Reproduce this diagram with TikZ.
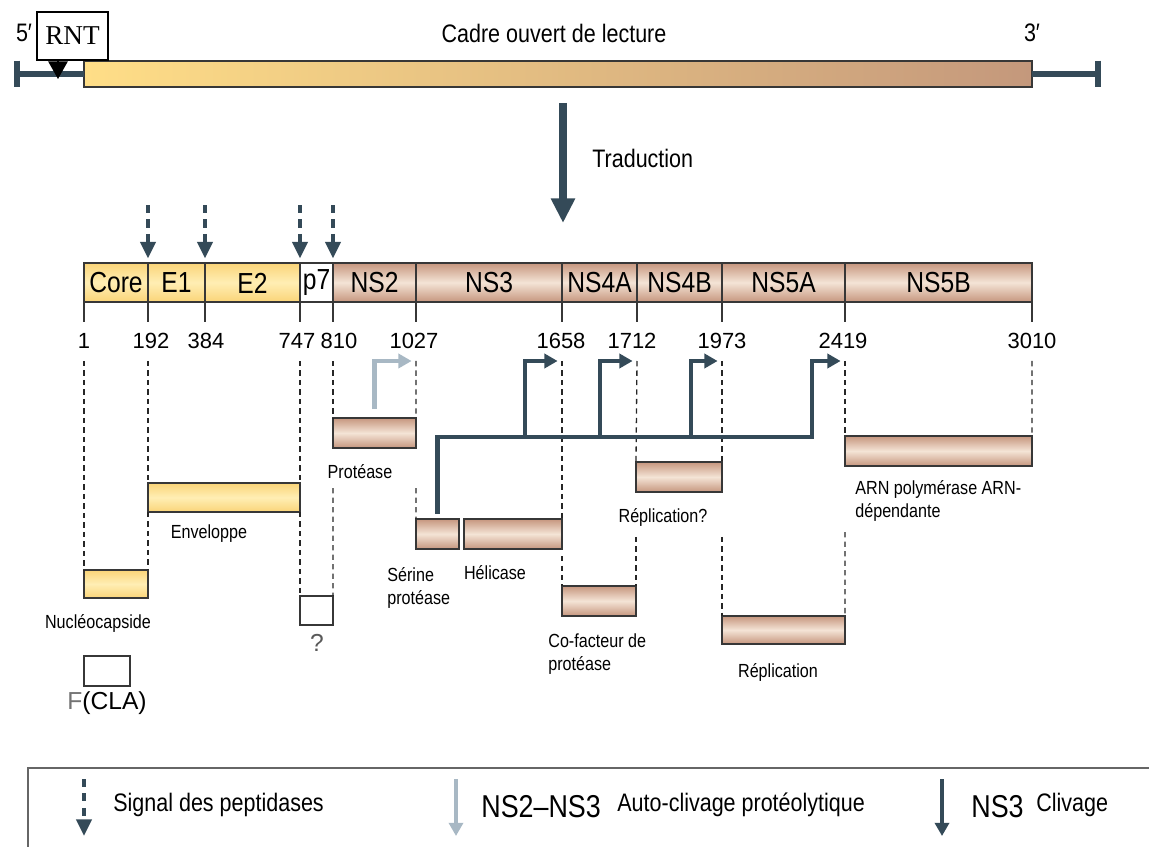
\documentclass[tikz,border=0pt]{standalone}
\usepackage{fontspec}
\setmainfont{Liberation Sans}
\newfontfamily\condfont[FakeStretch=0.85]{Liberation Sans}
\newfontfamily\rntfont{Liberation Serif}
\usetikzlibrary{arrows.meta}
\usetikzlibrary{calc}

\definecolor{slate}{RGB}{52,74,88}
\definecolor{paleslate}{RGB}{168,184,196}
\definecolor{yelA}{RGB}{250,212,120}
\definecolor{yelB}{RGB}{255,238,180}
\definecolor{brnA}{RGB}{198,150,126}
\definecolor{brnB}{RGB}{244,228,214}
\definecolor{orfL}{RGB}{255,222,135}
\definecolor{orfR}{RGB}{196,152,124}
\definecolor{edge}{RGB}{55,55,55}

\newcommand{\protbox}[6]{%
  \node[#6, minimum width={(#3-#2)*0.02cm}, minimum height={(#5-#4)*0.02cm}]
    (#1) at ({(#2+#3)/2},{(#4+#5)/2}) {};}

\begin{document}
\begin{tikzpicture}[
    x=0.02cm, y=-0.02cm,
    boxbase/.style={rectangle, inner sep=0pt, outer sep=0pt, draw=edge, line width=1pt},
    yel/.style={boxbase, top color=yelA, bottom color=yelA, middle color=yelB},
    brn/.style={boxbase, top color=brnA, bottom color=brnA, middle color=brnB},
    wht/.style={boxbase, fill=white},
    orfbar/.style={boxbase, left color=orfL, right color=orfR},
    seglabel/.style={inner sep=0pt, font=\condfont\fontsize{16.5}{18}\selectfont},
    numlabel/.style={inner sep=0pt, font=\fontsize{12.5}{14}\selectfont},
    lbl/.style={inner sep=0pt, align=left, font=\condfont\fontsize{10.8}{12.8}\selectfont},
    big/.style={inner sep=0pt, font=\condfont\fontsize{14.4}{16}\selectfont},
    legns/.style={inner sep=0pt, font=\condfont\fontsize{18}{20}\selectfont},
    tick/.style={draw=edge, line width=1pt},
    guide/.style={draw=black!85, line width=0.75pt, dash pattern=on 3pt off 2.4pt},
    rail/.style={draw=slate, line width=3.3pt},
    signal/.style={draw=slate, line width=2.8pt, dash pattern=on 4.6pt off 3.6pt,
        -{Triangle[length=9.5pt,width=8.5pt]}},
    ns3/.style={draw=slate, line width=2.8pt, -{Triangle[length=7.5pt,width=8pt]}},
    ns2/.style={draw=paleslate, line width=2.8pt, -{Triangle[length=7.5pt,width=8pt]}},
    transl/.style={draw=slate, line width=4.5pt, -{Triangle[length=14pt,width=13pt]}},
    ]
    \useasboundingbox (0,0) rectangle (1149,847);

    % cadre ouvert de lecture
    \coordinate (lend) at (17,74);
    \coordinate (rend) at (1098,74);
    \protbox{orf}{84}{1032}{61}{87}{orfbar}
    \draw[rail] (lend) -- (orf.west);
    \draw[rail] (orf.east) -- (rend);
    \draw[draw=slate, line width=3pt] ([yshift=7.6pt]lend) -- ([yshift=-7.6pt]lend);
    \draw[draw=slate, line width=3pt] ([yshift=7.6pt]rend) -- ([yshift=-7.6pt]rend);
    \node[big] (five) at (24,33) {5′};
    \node[big] (three) at (1032,33) {3′};
    \node[big] (cadre) at (554,33) {Cadre ouvert de lecture};
    \node[draw=black, line width=0.9pt, fill=white, inner sep=0pt, minimum width=1.42cm,
        minimum height=0.96cm, font=\rntfont\fontsize{15.5}{17}\selectfont] (rnt) at (72.5,36) {RNT};
    \coordinate (rntpin) at (58,79);
    \draw[line width=0.8pt, -{Triangle[length=10pt,width=11pt]}] (rnt.south -| rntpin) -- (rntpin);

    % traduction
    \coordinate (trtop) at (563,103);
    \coordinate (trtip) at (563,223);
    \draw[transl] (trtop) -- (trtip);
    \node[big, anchor=west] (trad) at (592,158) {Traduction};

    % polyproteine
    \foreach \a/\b/\lab/\sty [count=\i] in {84/148/Core/yel, 148/205/E1/yel, 205/300/E2/yel,
        300/333/p7/wht, 333/416/NS2/brn, 416/562/NS3/brn, 562/637/NS4A/brn,
        637/722/NS4B/brn, 722/845/NS5A/brn, 845/1032/NS5B/brn}{
            \draw[\sty] (\a,263) rectangle (\b,302);
            \node[seglabel] (seg\i) at ({(\a+\b)/2},283) {\lab};
            \coordinate (b\i) at (\a,263);
        }
    \foreach \x/\nx/\n [count=\i] in {84/84/1, 148/151/192, 205/206/384, 300/297/747,
        333/339/810, 416/414/1027, 562/561/1658, 637/632/1712, 722/722/1973,
        845/843/2419, 1032/1032/3010}{
            \draw[tick] (\x,302) -- (\x,322);
            \node[numlabel] (n\i) at (\nx,341) {\n};
            \coordinate (t\i) at (\x,361);
        }
    \foreach \k in {2,3,4,5}
        \draw[signal] ([yshift=33pt]b\k) -- ([yshift=2.5pt]b\k);

    % produits
    \protbox{nucleo}{84}{148}{570}{598}{yel}
    \protbox{env}{148}{300}{483}{512}{yel}
    \protbox{p7box}{300}{333}{596}{625}{wht}
    \protbox{fbox}{84}{130}{656}{686}{wht}
    \protbox{prot}{333}{416}{418}{448}{brn}
    \protbox{serine}{416}{459}{519}{549}{brn}
    \protbox{helic}{464}{562}{519}{549}{brn}
    \protbox{cofac}{562}{636}{586}{616}{brn}
    \protbox{repq}{636}{722}{462}{492}{brn}
    \protbox{repl}{722}{845}{616}{644}{brn}
    \protbox{pol}{845}{1032}{436}{466}{brn}

    \node[lbl] (nucleolbl) at (98,623) {Nucléocapside};
    \node[font=\fontsize{14}{16}\selectfont, inner sep=0pt] (fcla) at (107,703) {\textcolor{black!55}{F}(CLA)};
    \node[lbl] (envlbl) at (209,534) {Enveloppe};
    \node[inner sep=0pt, text=black!65, font=\fontsize{14}{16}\selectfont] (qlbl) at (317,643) {?};
    \node[lbl] (protlbl) at (360,472) {Protéase};
    \node[lbl, anchor=west] (serinelbl) at (387,588) {Sérine\\protéase};
    \node[lbl] (heliclbl) at (495,573) {Hélicase};
    \node[lbl, anchor=west] (cofaclbl) at (548,654) {Co-facteur de\\protéase};
    \node[lbl] (repqlbl) at (663,517) {Réplication?};
    \node[lbl] (repllbl) at (778,672) {Réplication};
    \node[lbl, anchor=west] (pollbl) at (855,501) {ARN polymérase ARN-\\dépendante};

    \draw[guide] (t1) -- (nucleo.north west);
    \draw[guide] (t2) -- (env.north west);
    \draw[guide] (env.south west) -- (nucleo.north east);
    \draw[guide] (t4) -- (env.north east);
    \draw[guide] (env.south east) -- (p7box.north west);
    \draw[guide] (t5) -- (prot.north west);
    \draw[guide] ([yshift=-5pt]protlbl.south -| prot.west) -- (p7box.north east);
    \draw[guide] (t6) -- (prot.north east);
    \draw[guide] ([yshift=-5pt]protlbl.south -| prot.east) -- (serine.north west);
    \draw[guide] (t7) -- (helic.north east);
    \draw[guide] ([yshift=-4pt]helic.south east) -- (cofac.north west);
    \draw[guide] (t8) -- (repq.north west);
    \draw[guide] ([yshift=-6pt]repqlbl.south -| repq.west) -- (cofac.north east);
    \draw[guide] (t9) -- (repq.north east);
    \draw[guide] ([yshift=-6pt]repqlbl.south -| repq.east) -- (repl.north west);
    \draw[guide] (t10) -- (pol.north west);
    \draw[guide] ([yshift=-6pt]pollbl.south -| pol.west) -- (repl.north east);
    \draw[guide] (t11) -- (pol.north east);

    % clivages
    \draw[ns2] ([yshift=5pt]prot.north) |- ([xshift=-2.5pt]t6);
    \draw[ns3] ([yshift=3pt]serine.north) |- (812,437) |- ([xshift=-2.5pt]t10);
    \foreach \bx/\k in {525/7, 600/8, 691/9}
        \draw[ns3] (\bx,437) |- ([xshift=-2.5pt]t\k);

    % legende
    \draw[draw=black!60, line width=1.2pt] (28,847) -- (28,768) -- (1149,768);
    \draw[signal] (84,779) -- (84,836);
    \draw[ns2, line width=1.8pt] (456,779) -- (456,836);
    \draw[ns3, line width=2.2pt] (942,779) -- (942,836);
    \node[big, anchor=west] (lgsig) at (113,805) {Signal des peptidases};
    \node[legns, anchor=west] (lgns23) at (481,807) {NS2–NS3};
    \node[big, anchor=west] (lgauto) at (617,805) {Auto-clivage protéolytique};
    \node[legns, anchor=west] (lgns3) at (971,807) {NS3};
    \node[big, anchor=west] (lgcliv) at (1036,805) {Clivage};
\end{tikzpicture}
\end{document}
